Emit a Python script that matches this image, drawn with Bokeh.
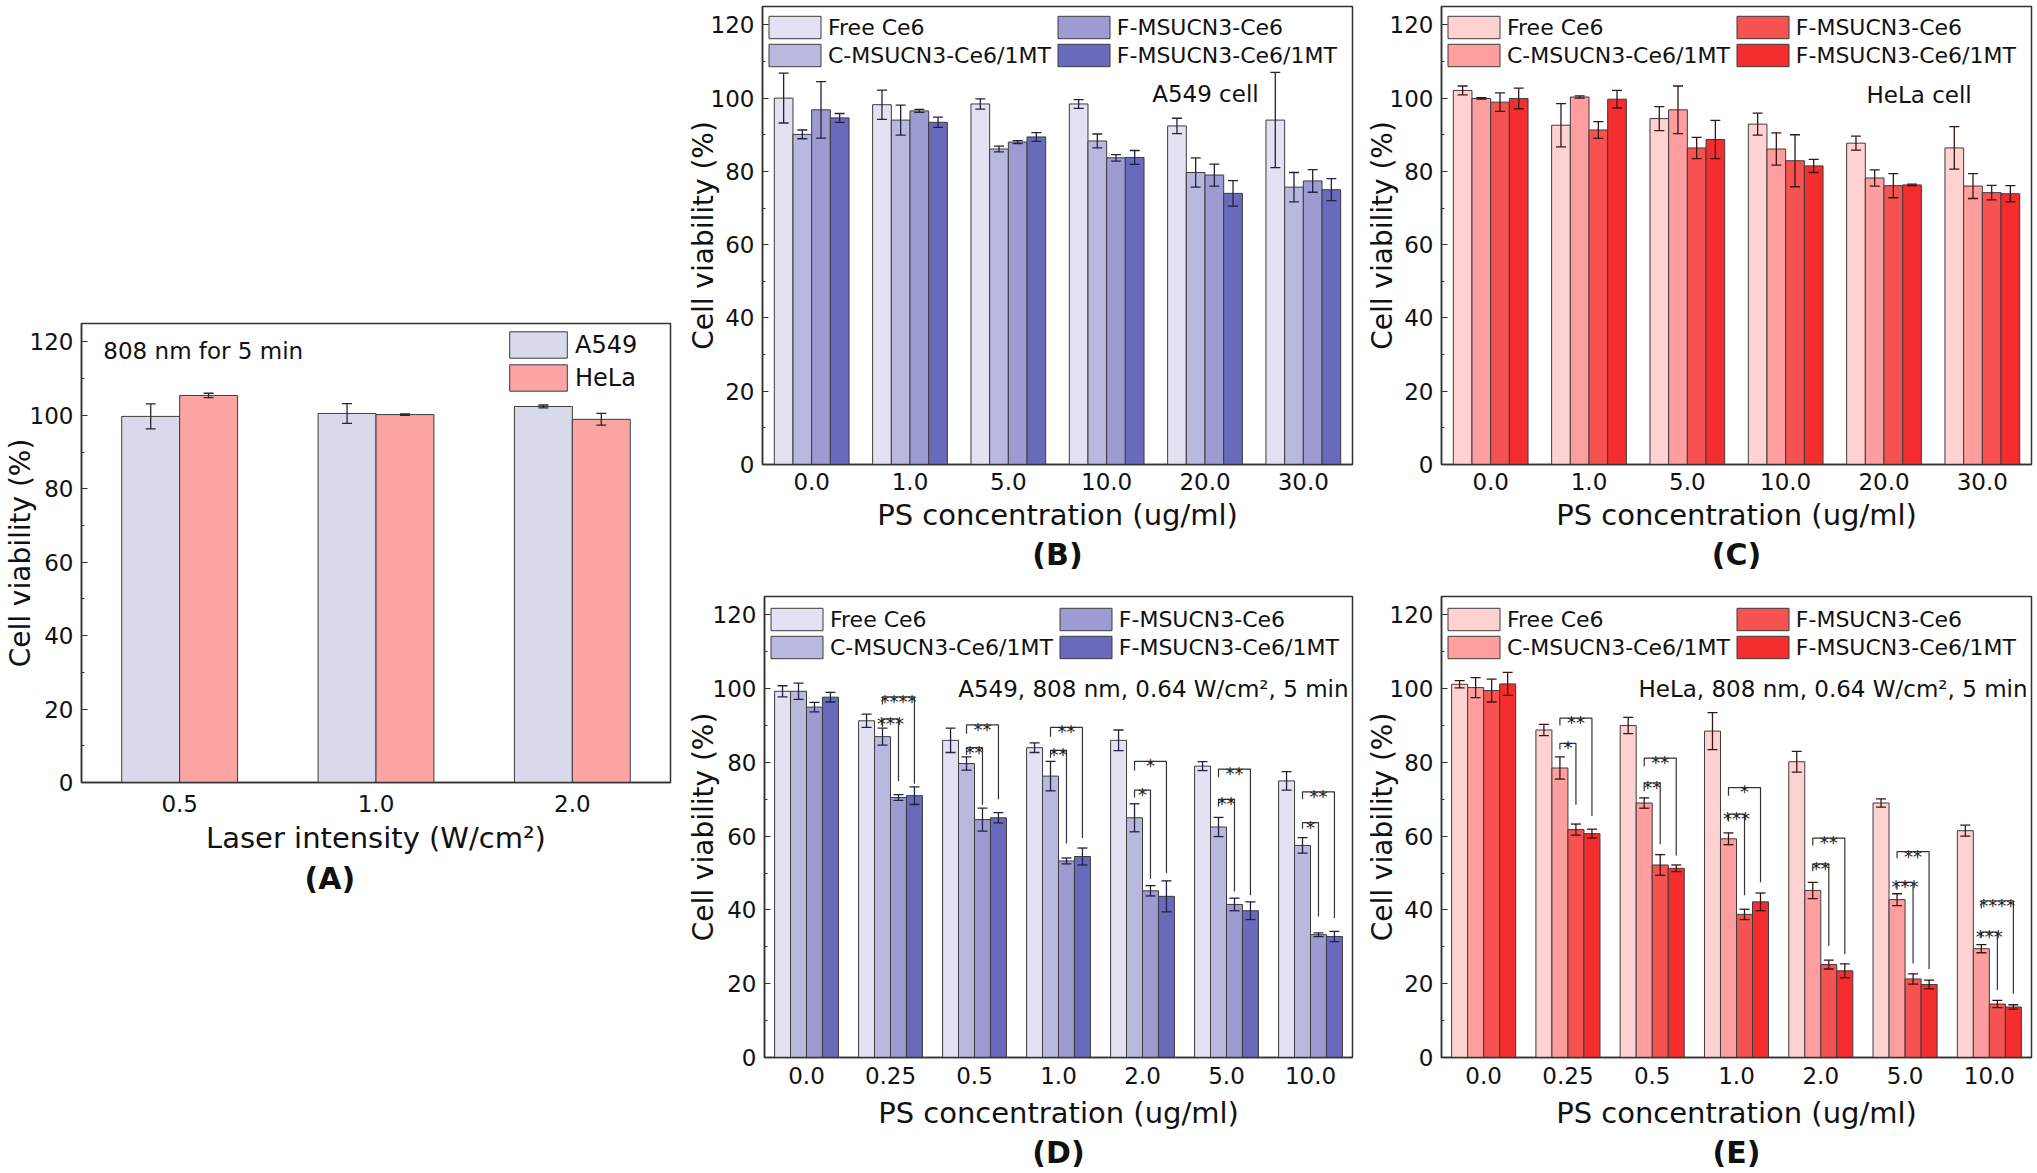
import numpy as np
from bokeh.plotting import figure
from bokeh.models import (Range1d, FixedTicker, SingleIntervalTicker, Legend, LegendItem,
                          Label, Whisker, TeeHead, ColumnDataSource, Title)
from bokeh.layouts import row, column
from bokeh.embed import file_html
from bokeh.resources import INLINE
from bokeh.core.properties import value

# ---------------- data ----------------
SERIES4 = ["Free Ce6", "C-MSUCN3-Ce6/1MT", "F-MSUCN3-Ce6", "F-MSUCN3-Ce6/1MT"]

# (A) laser only
A_cats = ["0.5", "1.0", "2.0"]
A_series = ["A549", "HeLa"]
A_a549 = [99.7, 100.5, 102.4]
A_a549_err = [3.4, 2.7, 0.4]
A_hela = [105.4, 100.2, 98.9]
A_hela_err = [0.6, 0.2, 1.6]

# (B) A549, dark
B_cats = ["0.0", "1.0", "5.0", "10.0", "20.0", "30.0"]
B_free = [100.0, 98.2, 98.4, 98.4, 92.4, 94.0]
B_free_err = [6.8, 4.0, 1.4, 1.2, 2.1, 13.0]
B_c = [90.1, 94.0, 86.1, 88.3, 79.7, 75.7]
B_c_err = [1.2, 4.1, 0.8, 1.9, 4.0, 4.0]
B_f = [96.8, 96.5, 88.0, 83.7, 79.0, 77.4]
B_f_err = [7.7, 0.4, 0.4, 0.9, 3.0, 3.1]
B_f1 = [94.6, 93.4, 89.4, 83.8, 74.0, 75.0]
B_f1_err = [1.2, 1.4, 1.2, 1.9, 3.5, 3.0]

# (C) HeLa, dark
C_cats = ["0.0", "1.0", "5.0", "10.0", "20.0", "30.0"]
C_free = [102.1, 92.6, 94.4, 92.9, 87.7, 86.4]
C_free_err = [1.2, 5.9, 3.3, 3.0, 1.9, 5.8]
C_c = [99.9, 100.3, 96.8, 86.1, 78.2, 76.0]
C_c_err = [0.2, 0.3, 6.5, 4.4, 2.2, 3.4]
C_f = [98.9, 91.3, 86.4, 82.9, 76.1, 74.2]
C_f_err = [2.5, 2.3, 2.9, 7.1, 3.3, 2.0]
C_f1 = [99.9, 99.7, 88.7, 81.5, 76.3, 73.9]
C_f1_err = [2.8, 2.4, 5.2, 1.8, 0.2, 2.2]

# (D) A549, 808 nm
D_cats = ["0.0", "0.25", "0.5", "1.0", "2.0", "5.0", "10.0"]
D_free = [99.3, 91.3, 86.0, 84.0, 86.0, 79.0, 75.0]
D_free_err = [1.5, 1.8, 3.3, 1.3, 2.8, 1.2, 2.5]
D_c = [99.3, 87.0, 79.7, 76.3, 65.0, 62.5, 57.5]
D_c_err = [2.2, 2.3, 1.8, 4.0, 3.8, 2.6, 2.1]
D_f = [95.0, 70.5, 64.5, 53.3, 45.2, 41.5, 33.3]
D_f_err = [1.3, 0.8, 3.1, 0.8, 1.4, 1.7, 0.5]
D_f1 = [97.7, 71.0, 65.0, 54.5, 43.7, 39.8, 32.8]
D_f1_err = [1.3, 2.4, 1.4, 2.3, 4.2, 2.4, 1.4]
# significance brackets (C vs F = lower, C vs F/1MT = upper)
D_br_group = [1, 2, 3, 4, 5, 6]
D_lo_line = [91.8, 84.0, 83.3, 72.5, 70.0, 63.7]
D_lo_left = [89.6, 82.0, 81.3, 70.5, 68.0, 62.0]
D_lo_right = [75.0, 68.5, 58.0, 48.5, 45.0, 38.2]
D_lo_mark = ["***", "**", "**", "*", "**", "*"]
D_hi_line = [97.8, 90.2, 89.5, 80.3, 78.2, 72.0]
D_hi_left = [95.7, 87.8, 87.0, 77.8, 76.0, 70.0]
D_hi_right = [74.2, 70.0, 59.5, 50.0, 44.0, 37.8]
D_hi_mark = ["****", "**", "**", "*", "**", "**"]

# (E) HeLa, 808 nm
E_cats = ["0.0", "0.25", "0.5", "1.0", "2.0", "5.0", "10.0"]
E_free = [101.2, 88.8, 90.0, 88.5, 80.2, 69.0, 61.5]
E_free_err = [1.0, 1.5, 2.2, 5.0, 2.8, 1.1, 1.5]
E_c = [100.3, 78.5, 69.0, 59.3, 45.3, 42.8, 29.5]
E_c_err = [2.7, 3.0, 1.4, 1.6, 2.2, 1.6, 1.1]
E_f = [99.5, 61.8, 52.2, 38.8, 25.2, 21.3, 14.5]
E_f_err = [3.1, 1.5, 2.8, 1.4, 1.2, 1.4, 1.0]
E_f1 = [101.3, 60.7, 51.3, 42.2, 23.5, 19.8, 13.7]
E_f1_err = [3.1, 1.2, 0.9, 2.4, 1.9, 1.2, 0.6]
E_br_group = [1, 2, 3, 4, 5, 6]
E_lo_line = [85.2, 74.5, 66.0, 52.5, 47.5, 34.0]
E_lo_left = [83.5, 72.2, 64.0, 50.5, 45.5, 32.5]
E_lo_right = [68.5, 57.8, 44.0, 30.2, 25.5, 18.3]
E_lo_mark = ["*", "**", "***", "**", "***", "***"]
E_hi_line = [92.0, 81.2, 73.2, 59.5, 55.8, 42.5]
E_hi_left = [90.0, 79.0, 71.0, 57.5, 54.0, 40.5]
E_hi_right = [65.5, 54.8, 47.5, 28.0, 24.0, 17.3]
E_hi_mark = ["**", "**", "*", "**", "**", "****"]

# ---------------- style ----------------
FONT = "DejaVu Sans"
Y_MAX = 125
AX = "#333333"
TXT = "#111111"
BLUE = ["#E2E2F3", "#B9B9DF", "#9C9CD3", "#6A6ABC"]
RED = ["#FFD2D2", "#FF9E9E", "#F65252", "#F42E2E"]
A_COL = ["#D9D9EC", "#FBA4A4"]

# canvas origin (cx, cy) in page pixels, size and borders around the frame
geomA = dict(cx=0, cy=0, w=683, h=1172, bl=77, br=13, bt=323, bb=390)
geomB = dict(cx=683, cy=0, w=677, h=578, bl=77, br=8, bt=6, bb=114)
geomC = dict(cx=1360, cy=0, w=676, h=578, bl=81, br=5, bt=6, bb=114)
geomD = dict(cx=683, cy=578, w=677, h=594, bl=77, br=8, bt=18, bb=115)
geomE = dict(cx=1360, cy=578, w=676, h=594, bl=81, br=5, bt=18, bb=115)


def frame(g):
    fl = g["cx"] + g["bl"]
    fw = g["w"] - g["bl"] - g["br"]
    ft = g["cy"] + g["bt"]
    fh = g["h"] - g["bt"] - g["bb"]
    return fl, fw, ft, fh, ft + fh


def px2x(g, n, px):
    fl, fw, _, _, _ = frame(g)
    return -0.5 + (px - fl) * n / fw


def px2y(g, py):
    _, _, _, fh, fb = frame(g)
    return (fb - py) * Y_MAX / fh


def make_fig(cats, g, xstandoff, xtitle, xtitle_standoff, ytitle_standoff,
             letter, letter_standoff, letter_align="center", letter_offset=0):
    n = len(cats)
    p = figure(width=g["w"], height=g["h"], x_range=Range1d(-0.5, n - 0.5),
               y_range=Range1d(0, Y_MAX), output_backend="svg", toolbar_location=None,
               min_border_left=g["bl"], min_border_right=g["br"],
               min_border_top=g["bt"], min_border_bottom=g["bb"])
    p.xgrid.visible = False
    p.ygrid.visible = False
    p.outline_line_color = AX
    p.outline_line_width = 1.5
    p.outline_line_alpha = 1.0
    ya = p.yaxis[0]
    ya.ticker = SingleIntervalTicker(interval=20, num_minor_ticks=2)
    ya.major_tick_in = 6
    ya.major_tick_out = 0
    ya.minor_tick_in = 3
    ya.minor_tick_out = 0
    ya.major_tick_line_color = AX
    ya.minor_tick_line_color = AX
    ya.axis_line_color = AX
    ya.axis_line_width = 1.5
    ya.major_label_standoff = 8
    ya.major_label_text_font = FONT
    ya.major_label_text_font_size = "23px"
    ya.major_label_text_color = TXT
    ya.axis_label = "Cell viability (%)"
    ya.axis_label_text_font = FONT
    ya.axis_label_text_font_size = "28px"
    ya.axis_label_text_font_style = "normal"
    ya.axis_label_text_color = TXT
    ya.axis_label_standoff = ytitle_standoff
    xa = p.xaxis[0]
    xa.ticker = FixedTicker(ticks=list(range(n)), minor_ticks=[])
    xa.major_label_overrides = {i: c for i, c in enumerate(cats)}
    xa.major_tick_in = 0
    xa.major_tick_out = 0
    xa.minor_tick_in = 0
    xa.minor_tick_out = 0
    xa.axis_line_color = AX
    xa.axis_line_width = 1.5
    xa.major_label_standoff = xstandoff
    xa.major_label_text_font = FONT
    xa.major_label_text_font_size = "23px"
    xa.major_label_text_color = TXT
    xa.axis_label = xtitle
    xa.axis_label_text_font = FONT
    xa.axis_label_text_font_size = "29px"
    xa.axis_label_text_font_style = "normal"
    xa.axis_label_text_color = TXT
    xa.axis_label_standoff = xtitle_standoff
    p.add_layout(Title(text=letter, align=letter_align, text_font=FONT, text_font_size="30px",
                       text_font_style="bold", text_color=TXT, standoff=letter_standoff,
                       offset=letter_offset), "below")
    return p


def add_bars(p, xs, vals, errs, color, ecolor, width):
    src = ColumnDataSource(dict(x=xs, top=vals,
                                upper=[v + e for v, e in zip(vals, errs)],
                                lower=[v - e for v, e in zip(vals, errs)]))
    r = p.vbar(x="x", top="top", bottom=0, width=width, source=src,
               fill_color=color, line_color="#3c3c3c", line_width=1)
    w = Whisker(base="x", upper="upper", lower="lower", source=src,
                line_color=ecolor, line_width=1.3, level="annotation",
                upper_head=TeeHead(size=10, line_color=ecolor, line_width=1.3),
                lower_head=TeeHead(size=10, line_color=ecolor, line_width=1.3))
    p.add_layout(w)
    return r


def four_panel(g, cats, vals, errs, colors, ecolor, note, note_px, note_align, note_base,
               ytitle_standoff, xstandoff, xtitle_standoff, letter, letter_standoff,
               legend_vy, brackets=None):
    n = len(cats)
    p = make_fig(cats, g, xstandoff, "PS concentration (ug/ml)", xtitle_standoff,
                 ytitle_standoff, letter, letter_standoff)
    bw = 0.19
    idx = np.arange(n)
    offs = [(k - 1.5) * bw for k in range(4)]
    rs = []
    for k in range(4):
        rs.append(add_bars(p, list(idx + offs[k]), vals[k], errs[k], colors[k], ecolor, bw))
    items = [LegendItem(label=SERIES4[k], renderers=[rs[k]]) for k in range(4)]
    leg = Legend(items=items, location=(0, legend_vy), ncols=2, orientation="vertical",
                 glyph_width=65, glyph_height=28, label_standoff=1, spacing=0,
                 padding=0, margin=0, border_line_alpha=0, background_fill_alpha=0,
                 label_text_font=FONT, label_text_font_size="22px",
                 label_text_color=TXT)
    p.add_layout(leg)
    p.add_layout(Label(x=px2x(g, n, note_px), y=px2y(g, note_base), text=note,
                       text_align=note_align, text_baseline="alphabetic", text_font=FONT,
                       text_font_size="23px", text_color=TXT))
    if brackets is not None:
        grp, lo_line, lo_l, lo_r, lo_m, hi_line, hi_l, hi_r, hi_m = brackets
        xs, ys, tx, ty, tt = [], [], [], [], []
        for i, gi in enumerate(grp):
            xl = gi + offs[1]
            for line, lb, rb, mark, kk in ((lo_line[i], lo_l[i], lo_r[i], lo_m[i], 2),
                                          (hi_line[i], hi_l[i], hi_r[i], hi_m[i], 3)):
                xr = gi + offs[kk]
                xs.append([xl, xl, xr, xr])
                ys.append([lb, line, line, rb])
                tx.append((xl + xr) / 2)
                ty.append(line - 1.2)
                tt.append(mark)
        p.multi_line(xs=xs, ys=ys, line_color=AX, line_width=1.2)
        p.text(x=tx, y=ty, text=tt, text_font=value(FONT), text_font_size="18px",
               text_align="center", text_baseline="alphabetic", text_color="#222222")
    return p


# ---------------- panel A ----------------
gA = geomA
nA = len(A_cats)
pA = make_fig(A_cats, gA, 12, "Laser intensity (W/cm\u00b2)", 6, -10, "(A)", 3,
              letter_align="left", letter_offset=223)
bwA = 0.295
idxA = np.arange(nA)
rA1 = add_bars(pA, list(idxA - bwA / 2), A_a549, A_a549_err, A_COL[0], "#262636", bwA)
rA2 = add_bars(pA, list(idxA + bwA / 2), A_hela, A_hela_err, A_COL[1], "#262636", bwA)
legA = Legend(items=[LegendItem(label=A_series[0], renderers=[rA1]),
                     LegendItem(label=A_series[1], renderers=[rA2])],
              location=(421, 388), orientation="vertical", glyph_width=72, glyph_height=33,
              label_standoff=1, spacing=0, padding=0, margin=0, border_line_alpha=0,
              background_fill_alpha=0, label_text_font=FONT, label_text_font_size="24px",
              label_text_color=TXT)
pA.add_layout(legA)
pA.add_layout(Label(x=px2x(gA, nA, 99), y=px2y(gA, 350), text="808 nm for 5 min",
                    text_align="left", text_baseline="alphabetic", text_font=FONT,
                    text_font_size="23px", text_color=TXT))

pB = four_panel(geomB, B_cats, [B_free, B_c, B_f, B_f1], [B_free_err, B_c_err, B_f_err, B_f1_err],
                BLUE, "#22223f", "A549 cell", 1151, "left", 93, -12, 8, 5, "(B)", 1, 395)
pC = four_panel(geomC, C_cats, [C_free, C_c, C_f, C_f1], [C_free_err, C_c_err, C_f_err, C_f1_err],
                RED, "#3b1414", "HeLa cell", 1866, "left", 94, -12, 8, 5, "(C)", 1, 395)
pD = four_panel(geomD, D_cats, [D_free, D_c, D_f, D_f1], [D_free_err, D_c_err, D_f_err, D_f1_err],
                BLUE, "#22223f", "A549, 808 nm, 0.64 W/cm\u00b2, 5 min", 1348, "right", 688,
                -10, 9, 9, "(D)", 0, 396,
                brackets=(D_br_group, D_lo_line, D_lo_left, D_lo_right, D_lo_mark,
                          D_hi_line, D_hi_left, D_hi_right, D_hi_mark))
pE = four_panel(geomE, E_cats, [E_free, E_c, E_f, E_f1], [E_free_err, E_c_err, E_f_err, E_f1_err],
                RED, "#3b1414", "HeLa, 808 nm, 0.64 W/cm\u00b2, 5 min", 2027, "right", 688,
                -12, 9, 9, "(E)", 0, 396,
                brackets=(E_br_group, E_lo_line, E_lo_left, E_lo_right, E_lo_mark,
                          E_hi_line, E_hi_left, E_hi_right, E_hi_mark))

layout = row(pA, column(row(pB, pC, spacing=0), row(pD, pE, spacing=0), spacing=0), spacing=0)

with open("out.html", "w") as f:
    f.write(file_html(layout, INLINE))
